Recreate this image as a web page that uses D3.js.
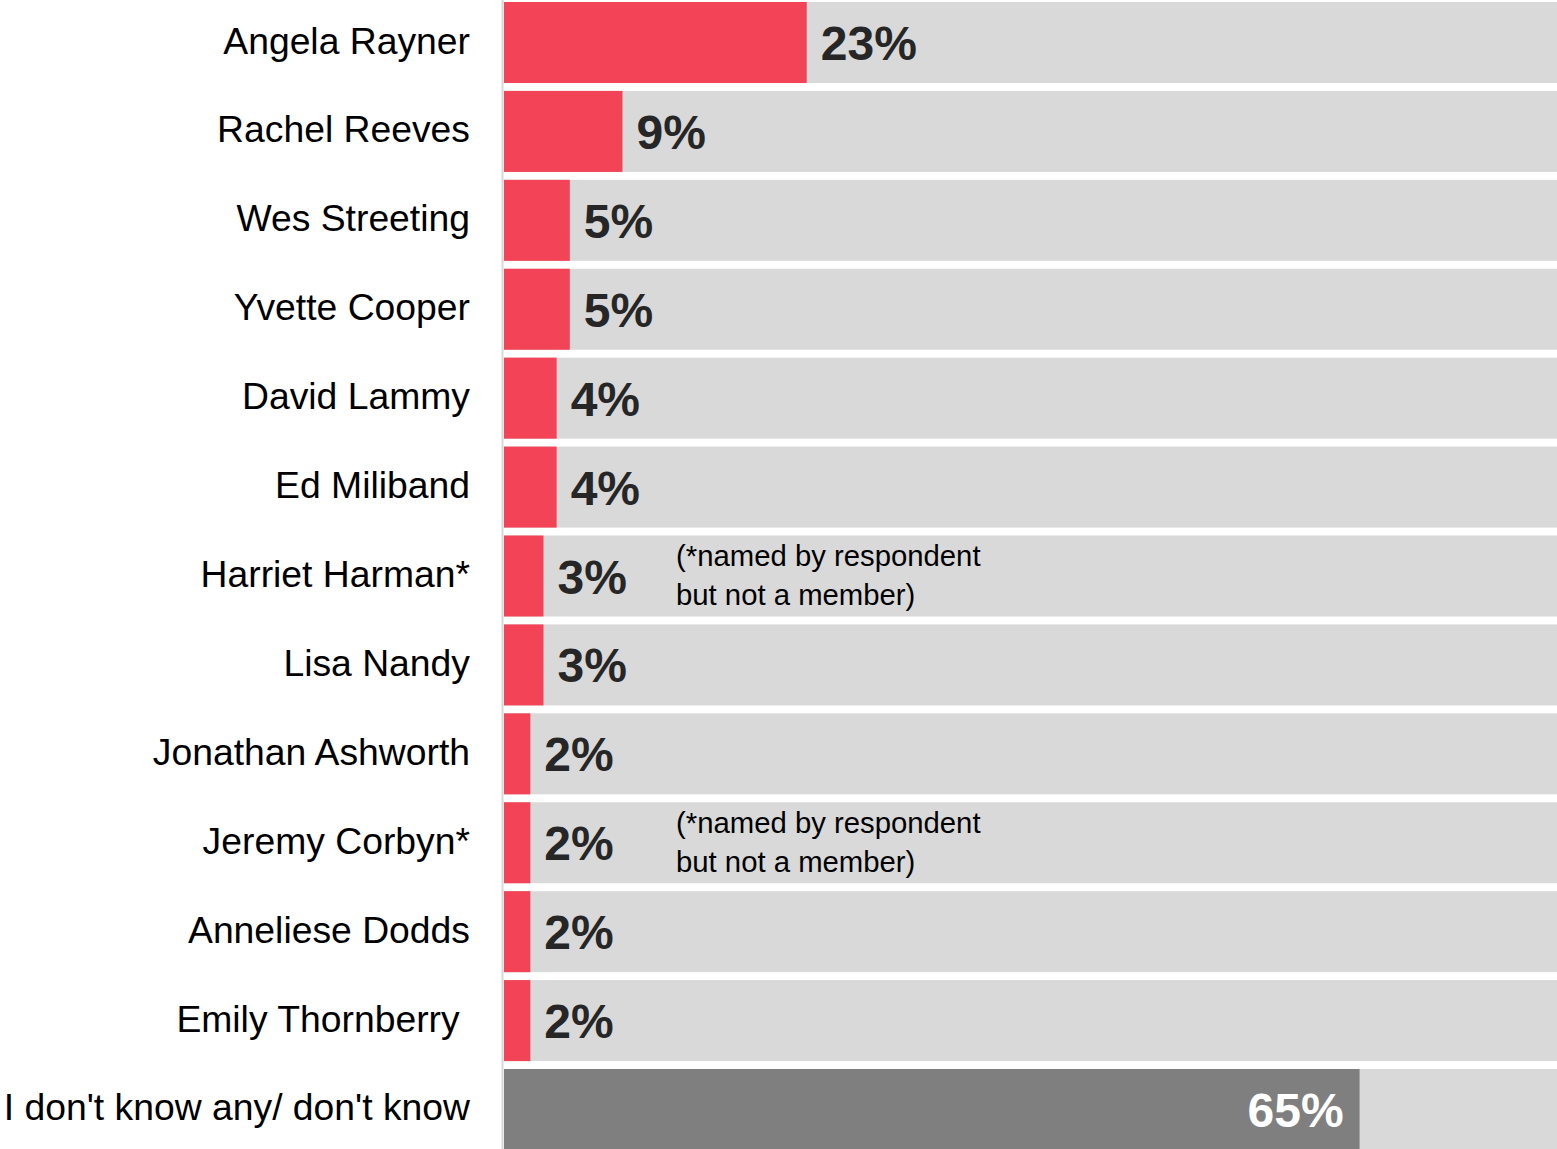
<!DOCTYPE html>
<html>
<head>
<meta charset="utf-8">
<script src="https://cdn.jsdelivr.net/npm/d3@7"></script>
<style>
  html, body { margin: 0; padding: 0; background: #fff; }
  svg { display: block; }
  text { font-family: "Liberation Sans", Arial, sans-serif; }
</style>
</head>
<body>
<svg id="chart" width="1557" height="1149"></svg>
<script>
const categories = [
  "Angela Rayner", "Rachel Reeves", "Wes Streeting", "Yvette Cooper",
  "David Lammy", "Ed Miliband", "Harriet Harman*", "Lisa Nandy",
  "Jonathan Ashworth", "Jeremy Corbyn*", "Anneliese Dodds",
  "Emily Thornberry ", "I don't know any/ don't know"
];
const values = [23, 9, 5, 5, 4, 4, 3, 3, 2, 2, 2, 2, 65];
const valueLabels = ["23%", "9%", "5%", "5%", "4%", "4%", "3%", "3%", "2%", "2%", "2%", "2%", "65%"];
const isDontKnow = [false, false, false, false, false, false, false, false, false, false, false, false, true];
const noteRows = ["Harriet Harman*", "Jeremy Corbyn*"];
const noteLines = ["(*named by respondent", "but not a member)"];
const axisMax = 80;

const svg = d3.select("#chart");
const x = d3.scaleLinear().domain([0, axisMax]).range([504, 1557]);
const y = d3.scaleBand().domain(categories).range([2, 1150]).paddingInner(0.089).paddingOuter(0);

const data = categories.map((c, i) => ({ c, v: values[i], label: valueLabels[i], dk: isDontKnow[i] }));

// background bars
svg.selectAll("rect.bg").data(data).join("rect")
  .attr("class", "bg")
  .attr("x", x(0)).attr("y", d => y(d.c))
  .attr("width", x(axisMax) - x(0)).attr("height", y.bandwidth())
  .attr("fill", "#d9d9d9");

// value bars
svg.selectAll("rect.val").data(data).join("rect")
  .attr("class", "val")
  .attr("x", x(0)).attr("y", d => y(d.c))
  .attr("width", d => x(d.v) - x(0)).attr("height", y.bandwidth())
  .attr("fill", d => d.dk ? "#7f7f7f" : "#f24357");

// axis line
svg.append("line")
  .attr("x1", 502.5).attr("x2", 502.5).attr("y1", 0).attr("y2", 1149)
  .attr("stroke", "#d9d9d9").attr("stroke-width", 2);

// category labels
svg.selectAll("text.cat").data(data).join("text")
  .attr("class", "cat")
  .attr("x", 470)
  .attr("y", d => y(d.c) + y.bandwidth() / 2 + 11)
  .attr("text-anchor", "end")
  .attr("font-size", 37.3)
  .attr("fill", "#000")
  .style("white-space", "pre")
  .text(d => d.c);

// value labels
svg.selectAll("text.vl").data(data).join("text")
  .attr("class", "vl")
  .attr("x", d => d.dk ? x(d.v) - 16 : x(d.v) + 14)
  .attr("y", d => y(d.c) + y.bandwidth() / 2 + 17.5)
  .attr("text-anchor", d => d.dk ? "end" : "start")
  .attr("font-size", 48)
  .attr("font-weight", "bold")
  .attr("fill", d => d.dk ? "#ffffff" : "#262626")
  .text(d => d.label);

// notes
noteRows.forEach(r => {
  const cy = y(r) + y.bandwidth() / 2;
  const t = svg.append("text")
    .attr("x", 676).attr("y", cy - 10)
    .attr("font-size", 29.3).attr("fill", "#000");
  noteLines.forEach((ln, i) => {
    t.append("tspan").attr("x", 676).attr("dy", i === 0 ? 0 : 39).text(ln);
  });
});
</script>
</body>
</html>
